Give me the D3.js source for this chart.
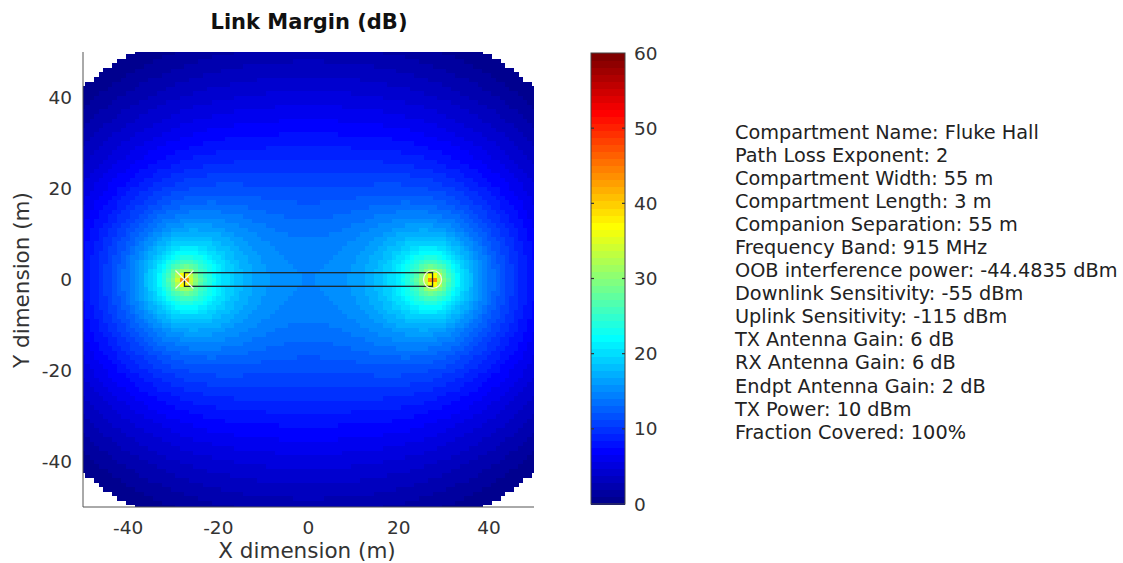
<!DOCTYPE html>
<html>
<head>
<meta charset="utf-8">
<script src="https://cdn.jsdelivr.net/npm/d3@7"></script>
<style>
  html, body { margin: 0; padding: 0; background: #fff; }
  svg { display: block; font-family: "DejaVu Sans", Verdana, sans-serif; }
</style>
</head>
<body>
<svg id="chart" width="1123" height="563"></svg>
<script>
// ---------------- data ----------------
const chartTitle = "Link Margin (dB)";
const xLabel = "X dimension (m)";
const yLabel = "Y dimension (m)";
const xTicks = [-40, -20, 0, 20, 40];
const yTicks = [-40, -20, 0, 20, 40];
const colorTicks = [0, 10, 20, 30, 40, 50, 60];
const xDomain = [-50, 50];
const yDomain = [-50, 50];
const colorDomain = [0, 60];

// grid of evaluation points (metres)
const gridX = d3.range(-50, 51, 1);
const gridY = d3.range(-50, 51, 1);

// companion reader positions, metres (separation 55 m)
const readerX = [-27.5, 27.5];
const readerY = [0, 0];

// compartment (Width 55 m, Length 3 m)
const compartmentX = [-27.5, 27.5];
const compartmentY = [-1.5, 1.5];

// link-budget parameters, from the info panel
const pathLossExponent = 2;
const frequencyMHz = 915;
const uplinkSensitivity = -115;    // dBm
const txAntennaGain = 6;           // dB
const rxAntennaGain = 6;           // dB
const endptAntennaGain = 2;        // dB
const txPower = 10;                // dBm
const extraLoss = 5.1;             // dB (estimated from the picture's coverage edge)

const infoLines = [
  "Compartment Name: Fluke Hall",
  "Path Loss Exponent: 2",
  "Compartment Width: 55 m",
  "Compartment Length: 3 m",
  "Companion Separation: 55 m",
  "Frequency Band: 915 MHz",
  "OOB interference power: -44.4835 dBm",
  "Downlink Sensitivity: -55 dBm",
  "Uplink Sensitivity: -115 dBm",
  "TX Antenna Gain: 6 dB",
  "RX Antenna Gain: 6 dB",
  "Endpt Antenna Gain: 2 dB",
  "TX Power: 10 dBm",
  "Fraction Covered: 100%"
];

// ---------------- model: bistatic link (reader 1 -> endpoint -> reader 2) ----------------
const lambda = 299.792458 / frequencyMHz;
const pl1m = 20 * Math.log10(4 * Math.PI / lambda);
function pathLoss(d) { return pl1m + 10 * pathLossExponent * Math.log10(Math.max(0.1, d)); }
function linkMargin(px, py) {
  const d1 = Math.hypot(px - readerX[0], py - readerY[0]);
  const d2 = Math.hypot(px - readerX[1], py - readerY[1]);
  const rx = txPower + txAntennaGain + 2 * endptAntennaGain + rxAntennaGain
             - pathLoss(d1) - pathLoss(d2) - extraLoss;
  return rx - uplinkSensitivity;
}

// MATLAB jet(64)
function jetColor(i) {
  const t = (i + 1) / 64;
  const c = v => Math.max(0, Math.min(1, v));
  const r = c(1.5 - Math.abs(4 * t - 3));
  const g = c(1.5 - Math.abs(4 * t - 2));
  const b = c(1.5 - Math.abs(4 * t - 1));
  return d3.rgb(r * 255, g * 255, b * 255).toString();
}
const levels = d3.range(64);
const levelScale = d3.scaleQuantize().domain(colorDomain).range(levels);

// ---------------- layout ----------------
const svg = d3.select("#chart");
const plot = { left: 83, right: 534, top: 52, bottom: 507 };
const x = d3.scaleLinear().domain(xDomain).range([plot.left, plot.right]);
const y = d3.scaleLinear().domain(yDomain).range([plot.bottom, plot.top]);

svg.append("defs").append("clipPath").attr("id", "plotclip")
  .append("rect").attr("x", plot.left).attr("y", plot.top)
  .attr("width", plot.right - plot.left).attr("height", plot.bottom - plot.top);

const cells = [];
gridY.forEach(gy => gridX.forEach(gx => {
  const m = linkMargin(gx, gy);
  if (m >= 0) cells.push({ gx, gy, m: Math.min(m, colorDomain[1]) });
}));

const heat = svg.append("g").attr("clip-path", "url(#plotclip)").attr("shape-rendering", "crispEdges");
heat.selectAll("rect").data(cells).join("rect")
  .attr("x", d => x(d.gx - 0.5))
  .attr("y", d => y(d.gy + 0.5))
  .attr("width", d => x(d.gx + 0.5) - x(d.gx - 0.5) + 0.6)
  .attr("height", d => y(d.gy - 0.5) - y(d.gy + 0.5) + 0.6)
  .attr("fill", d => jetColor(levelScale(d.m)));

// compartment outline
svg.append("rect")
  .attr("x", x(compartmentX[0])).attr("y", y(compartmentY[1]))
  .attr("width", x(compartmentX[1]) - x(compartmentX[0]))
  .attr("height", y(compartmentY[0]) - y(compartmentY[1]))
  .attr("fill", "none").attr("stroke", "#1a2a30").attr("stroke-width", 1.3);

// reader markers: x at left, circle at right
const mk = 9;
svg.append("path")
  .attr("d", `M${x(readerX[0]) - mk},${y(readerY[0]) - mk}L${x(readerX[0]) + mk},${y(readerY[0]) + mk}` +
             `M${x(readerX[0]) - mk},${y(readerY[0]) + mk}L${x(readerX[0]) + mk},${y(readerY[0]) - mk}`)
  .attr("stroke", "#f4f4e8").attr("stroke-width", 1.2).attr("fill", "none");
svg.append("circle")
  .attr("cx", x(readerX[1])).attr("cy", y(readerY[1])).attr("r", 9)
  .attr("stroke", "#f4f4e8").attr("stroke-width", 1.2).attr("fill", "none");

// axes lines (left + bottom)
const axisColor = "#555";
svg.append("line").attr("x1", plot.left).attr("x2", plot.left)
  .attr("y1", plot.top).attr("y2", plot.bottom).attr("stroke", axisColor).attr("stroke-width", 1);
svg.append("line").attr("x1", plot.left).attr("x2", plot.right)
  .attr("y1", plot.bottom).attr("y2", plot.bottom).attr("stroke", axisColor).attr("stroke-width", 1);

const textColor = "#333";
const tickFont = 18.5;
svg.append("g").selectAll("text").data(xTicks).join("text")
  .attr("x", d => x(d)).attr("y", 534)
  .attr("text-anchor", "middle").attr("font-size", tickFont).attr("fill", textColor)
  .text(d => d);
svg.append("g").selectAll("text").data(yTicks).join("text")
  .attr("x", 72).attr("y", d => y(d)).attr("dy", "0.36em")
  .attr("text-anchor", "end").attr("font-size", tickFont).attr("fill", textColor)
  .text(d => d);

svg.append("text").attr("x", 307).attr("y", 558)
  .attr("text-anchor", "middle").attr("font-size", 21.5).attr("fill", textColor).text(xLabel);
svg.append("text").attr("transform", `translate(29,280) rotate(-90)`)
  .attr("text-anchor", "middle").attr("font-size", 21.5).attr("fill", textColor).text(yLabel);

svg.append("text").attr("x", 309).attr("y", 29)
  .attr("text-anchor", "middle").attr("font-size", 21).attr("font-weight", "bold")
  .attr("fill", "#111").text(chartTitle);

// ---------------- colorbar ----------------
const cb = { left: 591, right: 625, top: 53, bottom: 504 };
const cy = d3.scaleLinear().domain(colorDomain).range([cb.bottom, cb.top]);
const step = (colorDomain[1] - colorDomain[0]) / 64;
svg.append("g").attr("shape-rendering", "crispEdges").selectAll("rect").data(levels).join("rect")
  .attr("x", cb.left).attr("width", cb.right - cb.left)
  .attr("y", i => cy(colorDomain[0] + (i + 1) * step))
  .attr("height", i => cy(colorDomain[0] + i * step) - cy(colorDomain[0] + (i + 1) * step) + 0.5)
  .attr("fill", i => jetColor(i));
svg.append("rect").attr("x", cb.left).attr("y", cb.top)
  .attr("width", cb.right - cb.left).attr("height", cb.bottom - cb.top)
  .attr("fill", "none").attr("stroke", "#444").attr("stroke-width", 1);
const cbt = svg.append("g");
cbt.selectAll("line.l").data(colorTicks.slice(1, -1)).join("line").attr("class", "l")
  .attr("x1", cb.left).attr("x2", cb.left + 3).attr("y1", d => cy(d)).attr("y2", d => cy(d))
  .attr("stroke", "#333").attr("stroke-width", 1.2);
cbt.selectAll("line.r").data(colorTicks.slice(1, -1)).join("line").attr("class", "r")
  .attr("x1", cb.right - 3).attr("x2", cb.right).attr("y1", d => cy(d)).attr("y2", d => cy(d))
  .attr("stroke", "#333").attr("stroke-width", 1.2);
cbt.selectAll("text").data(colorTicks).join("text")
  .attr("x", 634).attr("y", d => cy(d)).attr("dy", "0.36em")
  .attr("font-size", tickFont).attr("fill", textColor).text(d => d);

// ---------------- info panel ----------------
svg.append("g").selectAll("text").data(infoLines).join("text")
  .attr("x", 735).attr("y", (d, i) => 131.7 + i * 23.08).attr("dy", "0.36em")
  .attr("font-size", 19.3).attr("fill", "#222").text(d => d);
</script>
</body>
</html>
